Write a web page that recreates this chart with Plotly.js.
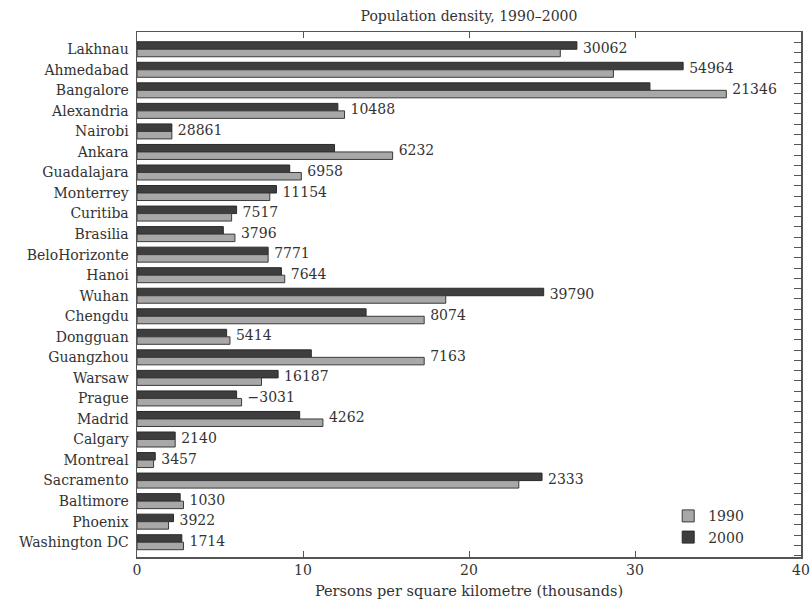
<!DOCTYPE html>
<html>
<head>
<meta charset="utf-8">
<script src="https://cdn.plot.ly/plotly-3.0.1.min.js"></script>
<style>html,body{margin:0;padding:0;background:#fff;}#chart{width:811px;height:600px;}</style>
</head>
<body>
<div id="chart"></div>
<script>
const cities = ["Lakhnau","Ahmedabad","Bangalore","Alexandria","Nairobi","Ankara","Guadalajara","Monterrey","Curitiba","Brasilia","BeloHorizonte","Hanoi","Wuhan","Chengdu","Dongguan","Guangzhou","Warsaw","Prague","Madrid","Calgary","Montreal","Sacramento","Baltimore","Phoenix","Washington DC"];
const density1990 = [25.5, 28.7, 35.5, 12.5, 2.1, 15.4, 9.9, 8.0, 5.7, 5.9, 7.9, 8.9, 18.6, 17.3, 5.6, 17.3, 7.5, 6.3, 11.2, 2.3, 1.0, 23.0, 2.8, 1.9, 2.8];
const density2000 = [26.5, 32.9, 30.9, 12.1, 2.1, 11.9, 9.2, 8.4, 6.0, 5.2, 7.9, 8.7, 24.5, 13.8, 5.4, 10.5, 8.5, 6.0, 9.8, 2.3, 1.1, 24.4, 2.6, 2.2, 2.7];
const endLabels = ["30062","54964","21346","10488","28861","6232","6958","11154","7517","3796","7771","7644","39790","8074","5414","7163","16187","\u22123031","4262","2140","3457","2333","1030","3922","1714"];

const FONT = "DejaVu Serif";
const labelX = density1990.map((v, i) => Math.max(v, density2000[i]));

const traces = [
  {
    type: "bar", orientation: "h", name: "2000", legendrank: 2,
    y: cities, x: density2000,
    marker: {color: "#3e3e3e", line: {color: "#2a2a2a", width: 1}},
    hoverinfo: "skip"
  },
  {
    type: "bar", orientation: "h", name: "1990", legendrank: 1,
    y: cities, x: density1990,
    marker: {color: "#a8a8a8", line: {color: "#3a3a3a", width: 1}},
    hoverinfo: "skip"
  },
  {
    type: "scatter", mode: "markers+text", showlegend: false,
    y: cities, x: labelX, text: endLabels,
    marker: {size: 8, opacity: 0},
    textposition: "middle right",
    textfont: {family: FONT, size: 14, color: "#333"},
    hoverinfo: "skip", cliponaxis: false
  },
  {
    type: "scatter", mode: "markers", showlegend: false,
    x: [null], y: [null], yaxis: "y2", hoverinfo: "skip"
  }
];

const layout = {
  width: 811, height: 600,
  margin: {l: 137, r: 10, t: 32, b: 43},
  paper_bgcolor: "#fff", plot_bgcolor: "#fff",
  font: {family: FONT, size: 14, color: "#333"},
  title: {text: "Population density, 1990\u20132000", font: {family: FONT, size: 14, color: "#333"}, x: 0.5, xanchor: "center", y: 0.973, yanchor: "middle", xref: "paper"},
  barmode: "group", bargap: 0.27, bargroupgap: 0,
  showlegend: true,
  legend: {x: 0.80, y: 0.108, xanchor: "left", yanchor: "top", bgcolor: "rgba(0,0,0,0)", font: {family: FONT, size: 14, color: "#333"}, traceorder: "normal", itemwidth: 30, tracegroupgap: 0},
  xaxis: {
    range: [0, 40], tickvals: [0, 10, 20, 30, 40],
    ticks: "inside", ticklen: 6, tickcolor: "#555", tickwidth: 1,
    showline: true, linecolor: "#555", linewidth: 1.5, mirror: "ticks",
    showgrid: false, zeroline: false,
    tickfont: {family: FONT, size: 14, color: "#333"},
    title: {text: "Persons per square kilometre (thousands)", font: {family: FONT, size: 14.5, color: "#333"}, standoff: 8}
  },
  yaxis: {
    type: "category", categoryorder: "array", categoryarray: cities,
    range: [24.72, -0.84],
    showline: true, linecolor: "#555", linewidth: 1.5,
    ticks: "", showgrid: false, zeroline: false,
    ticklabelstandoff: 4,
    tickfont: {family: FONT, size: 14, color: "#333"}
  },
  yaxis2: {
    overlaying: "y", side: "right", range: [24.72, -0.84],
    tick0: -0.35, dtick: 0.5, ticks: "inside", ticklen: 7, tickcolor: "#555",
    showticklabels: false, showline: true, linecolor: "#555", linewidth: 1.5,
    showgrid: false, zeroline: false
  }
};

Plotly.newPlot("chart", traces, layout, {staticPlot: true, displayModeBar: false});
</script>
</body>
</html>
